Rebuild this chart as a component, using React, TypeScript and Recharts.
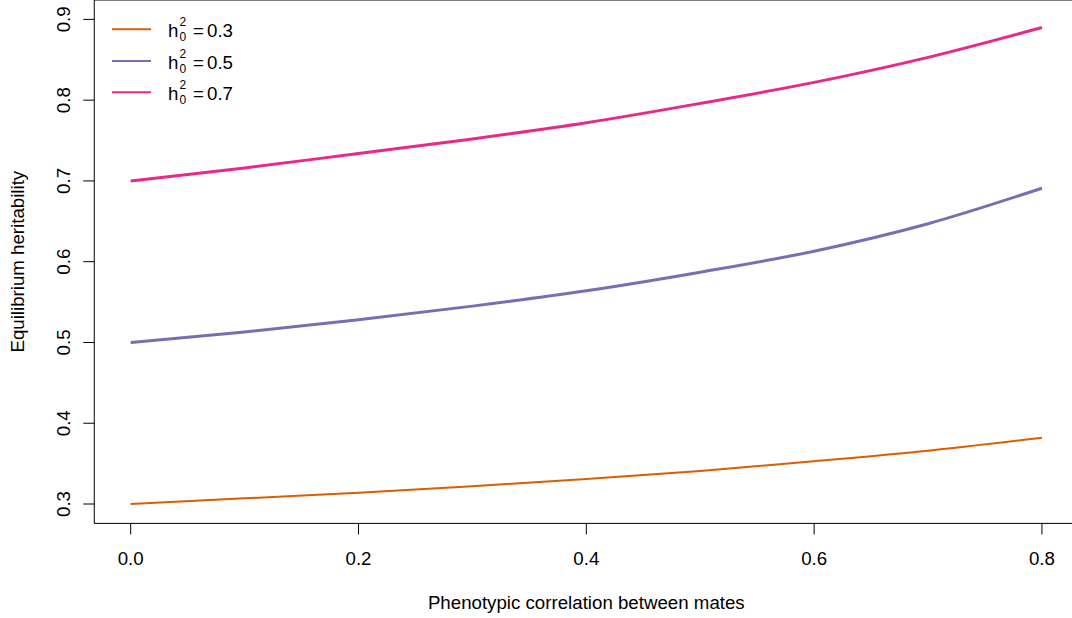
import React from 'react';
import { LineChart, Line, XAxis, YAxis, Legend, ReferenceArea } from 'recharts';

// correlation between mates (x) and equilibrium heritability per starting h0^2
const matesCorr = [0, 0.1, 0.2, 0.3, 0.4, 0.5, 0.6, 0.7, 0.8];
const herit03 = [0.300, 0.307, 0.314, 0.322, 0.331, 0.341, 0.353, 0.366, 0.382];
const herit05 = [0.500, 0.513, 0.528, 0.545, 0.564, 0.587, 0.613, 0.647, 0.691];
const herit07 = [0.700, 0.716, 0.734, 0.752, 0.772, 0.796, 0.822, 0.853, 0.890];

const xTicks = [0, 0.2, 0.4, 0.6, 0.8];
const yTicks = [0.3, 0.4, 0.5, 0.6, 0.7, 0.8, 0.9];

const seriesLabels = ['0.3', '0.5', '0.7'];
const seriesColors = ['#D95F02', '#7570B3', '#E7298A'];

const FONT = '"Liberation Sans", Arial, sans-serif';
const FS = 18.7;

const data = matesCorr.map((x, i) => ({ x, h03: herit03[i], h05: herit05[i], h07: herit07[i] }));

function XTick({ x, payload }: any) {
  return (
    <text x={x} y={565} textAnchor="middle" fontSize={FS} fontFamily={FONT} fill="#000">
      {Number(payload.value).toFixed(1)}
    </text>
  );
}

function YTick({ y, payload }: any) {
  return (
    <text transform={`translate(70, ${y}) rotate(-90)`} textAnchor="middle" fontSize={FS} fontFamily={FONT} fill="#000">
      {Number(payload.value).toFixed(1)}
    </text>
  );
}

function LegendBox() {
  const rows = [29.3, 61, 92.3];
  return (
    <svg width={300} height={110} style={{ display: 'block' }}>
      {seriesLabels.map((lab, i) => {
        const cy = rows[i];
        return (
          <g key={lab} fontFamily={FONT} fill="#000">
            <line x1={112} x2={151} y1={cy} y2={cy} stroke={seriesColors[i]} strokeWidth={2} />
            <text x={168} y={cy + 8} fontSize={FS}>h</text>
            <text x={179.5} y={cy - 3} fontSize={12}>2</text>
            <text x={179.5} y={cy + 11.5} fontSize={12}>0</text>
            <text x={193} y={cy + 8} fontSize={FS}>=</text>
            <text x={207} y={cy + 8} fontSize={FS}>{lab}</text>
          </g>
        );
      })}
    </svg>
  );
}

export default function App() {
  return (
    <div style={{ position: 'absolute', left: 0, top: 0, width: 1072, height: 618, overflow: 'hidden', background: '#fff' }}>
      <LineChart width={1080} height={618} data={data} margin={{ top: 0, right: 1.6, left: 0, bottom: 0 }}>
        <XAxis
          dataKey="x"
          type="number"
          domain={[-0.032, 0.832]}
          ticks={xTicks}
          allowDataOverflow
          height={94.6}
          axisLine={false}
          tickSize={11}
          tickLine={{ stroke: '#000' }}
          tick={<XTick />}
          label={{
            content: () => (
              <text x={586.3} y={609} textAnchor="middle" fontSize={FS} fontFamily={FONT} fill="#000">
                Phenotypic correlation between mates
              </text>
            ),
          }}
        />
        <YAxis
          type="number"
          domain={[0.276, 0.924]}
          ticks={yTicks}
          allowDataOverflow
          width={94.25}
          axisLine={false}
          tickSize={11}
          tickLine={{ stroke: '#000' }}
          tick={<YTick />}
          label={{
            content: () => (
              <text transform="translate(24, 261.7) rotate(-90)" textAnchor="middle" fontSize={FS} fontFamily={FONT} fill="#000">
                Equilibrium heritability
              </text>
            ),
          }}
        />
        <ReferenceArea x1={-0.032} x2={0.832} y1={0.276} y2={0.924} fill="none" fillOpacity={0} stroke="#000" strokeWidth={1} ifOverflow="visible" />
        <Line type="monotone" dataKey="h03" stroke={seriesColors[0]} strokeWidth={2} dot={false} isAnimationActive={false} />
        <Line type="monotone" dataKey="h05" stroke={seriesColors[1]} strokeWidth={3} dot={false} isAnimationActive={false} />
        <Line type="monotone" dataKey="h07" stroke={seriesColors[2]} strokeWidth={3} dot={false} isAnimationActive={false} />
        <Legend
          layout="vertical"
          align="center"
          verticalAlign="middle"
          wrapperStyle={{ position: 'absolute', left: 0, top: 0, width: 300, height: 110 }}
          content={() => <LegendBox />}
        />
      </LineChart>
    </div>
  );
}
